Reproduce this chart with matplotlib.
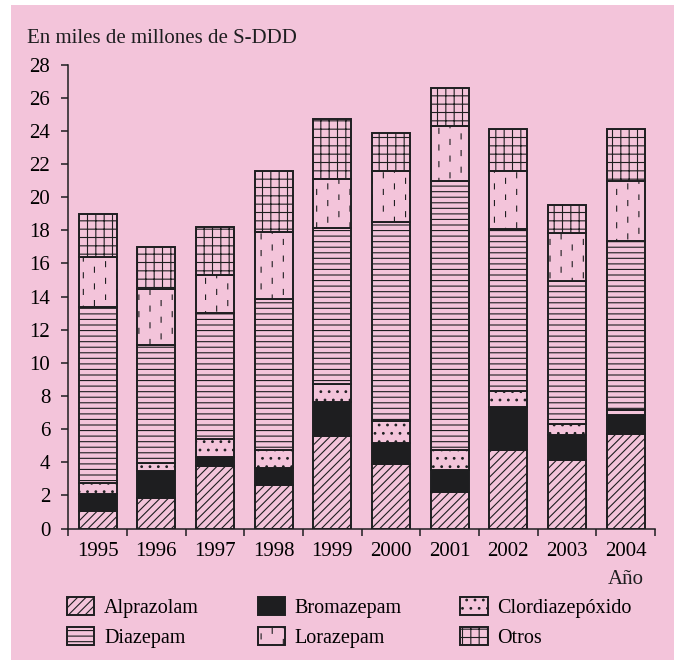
import warnings
import numpy as np
import matplotlib
matplotlib.use("Agg")
import matplotlib.pyplot as plt
import matplotlib.hatch as mhatch
from matplotlib.path import Path
from matplotlib.patches import Rectangle

warnings.filterwarnings("ignore")

# consumo de benzodiacepinas, miles de millones de S-DDD
years = ["1995", "1996", "1997", "1998", "1999", "2000", "2001", "2002", "2003", "2004"]
alprazolam = [1.04, 1.86, 3.76, 2.60, 5.56, 3.92, 2.21, 4.76, 4.16, 5.72]
bromazepam = [1.02, 1.64, 0.58, 1.04, 2.08, 1.26, 1.30, 2.57, 1.50, 1.15]
clordiazepoxido = [0.68, 0.44, 1.06, 1.12, 1.06, 1.31, 1.21, 0.96, 0.63, 0.30]
diazepam = [10.61, 7.16, 7.60, 9.08, 9.45, 11.98, 16.26, 9.81, 8.67, 10.20]
lorazepam = [3.02, 3.34, 2.30, 4.06, 2.94, 3.08, 3.32, 3.45, 2.87, 3.57]
otros = [2.61, 2.52, 2.90, 3.69, 3.62, 2.31, 2.30, 2.53, 1.71, 3.14]

series = [
    ("Alprazolam", alprazolam),
    ("Bromazepam", bromazepam),
    ("Clordiazepóxido", clordiazepoxido),
    ("Diazepam", diazepam),
    ("Lorazepam", lorazepam),
    ("Otros", otros),
]


class DashHatch(mhatch.HatchPatternBase):
    """guiones verticales cortos y escalonados (trama ':')"""

    def __init__(self, hatch, density):
        n = hatch.count(":")
        self.cols = 9 * n
        self.rows = 6 * n
        self.num_lines = self.cols * self.rows
        self.num_vertices = self.num_lines * 2

    def set_vertices_and_codes(self, vertices, codes):
        k = 0
        for j in range(self.cols):
            for i in range(self.rows):
                x = (j + 0.5) / self.cols
                y = ((i + j / 3.0) % self.rows) / self.rows
                vertices[k] = (x, y)
                vertices[k + 1] = (x, min(y + 0.05, 1.0))
                codes[k] = Path.MOVETO
                codes[k + 1] = Path.LINETO
                k += 2


mhatch._hatch_types.append(DashHatch)

pink = "#f3c4da"
ink = "#1e1e20"
styles = {
    "Alprazolam": dict(color=pink, hatch="////"),
    "Bromazepam": dict(color=ink, hatch=None),
    "Clordiazepóxido": dict(color=pink, hatch=".."),
    "Diazepam": dict(color=pink, hatch="---"),
    "Lorazepam": dict(color=pink, hatch=":"),
    "Otros": dict(color=pink, hatch="++"),
}

plt.rcParams["font.family"] = ["Liberation Serif", "DejaVu Serif"]
plt.rcParams["hatch.linewidth"] = 0.8
plt.rcParams["hatch.color"] = ink
fs = 15

fig = plt.figure(figsize=(6.74, 6.6), dpi=100, facecolor="white")
fig.patches.append(Rectangle((11 / 674, 0), 1 - 11 / 674, 1 - 5 / 660,
                             transform=fig.transFigure, facecolor=pink,
                             edgecolor="none", zorder=-10))

ax = fig.add_axes([68.3 / 674, 1 - 528.5 / 660, (655 - 68.3) / 674, (528.5 - 64.5) / 660])
ax.set_facecolor("none")

x = np.arange(len(years))
bottom = np.zeros(len(years))
handles = {}
for name, vals in series:
    st = styles[name]
    bars = ax.bar(x, vals, width=0.65, bottom=bottom, color=st["color"],
                  edgecolor=ink, linewidth=1.4, hatch=st["hatch"], label=name)
    handles[name] = bars
    bottom += np.array(vals)

ax.set_xlim(-0.5, 9.5)
ax.set_ylim(0, 28)
ax.set_yticks(range(0, 29, 2))
ax.set_xticks(x)
ax.set_xticklabels(years)
ax.set_xticks(np.arange(-0.5, 10, 1), minor=True)
ax.tick_params(axis="x", which="major", length=0, pad=10, labelsize=fs)
ax.tick_params(axis="x", which="minor", length=5, width=1.1, direction="out", color=ink)
ax.tick_params(axis="y", length=5, width=1.1, pad=8, labelsize=fs, color=ink)
for s in ["top", "right"]:
    ax.spines[s].set_visible(False)
for s in ["left", "bottom"]:
    ax.spines[s].set_linewidth(1.1)
    ax.spines[s].set_color(ink)

fig.text(27 / 674, 1 - 43 / 660, "En miles de millones de S-DDD", fontsize=fs,
         ha="left", va="baseline", color=ink)
fig.text(644 / 674, 1 - 580 / 660, "Año", fontsize=fs, ha="right", va="center", color=ink)

# leyenda en dos filas de tres
order = ["Alprazolam", "Diazepam", "Bromazepam", "Lorazepam", "Clordiazepóxido", "Otros"]
fig.legend([handles[n] for n in order], order, ncol=3, loc="upper left",
           bbox_to_anchor=(67 / 674, 1 - 597 / 660), frameon=False, fontsize=14.5,
           handlelength=1.35, handleheight=1.0, handletextpad=0.5,
           columnspacing=2.9, labelspacing=0.45, borderpad=0, borderaxespad=0)

fig.savefig("out.png", dpi=100, facecolor=fig.get_facecolor())
